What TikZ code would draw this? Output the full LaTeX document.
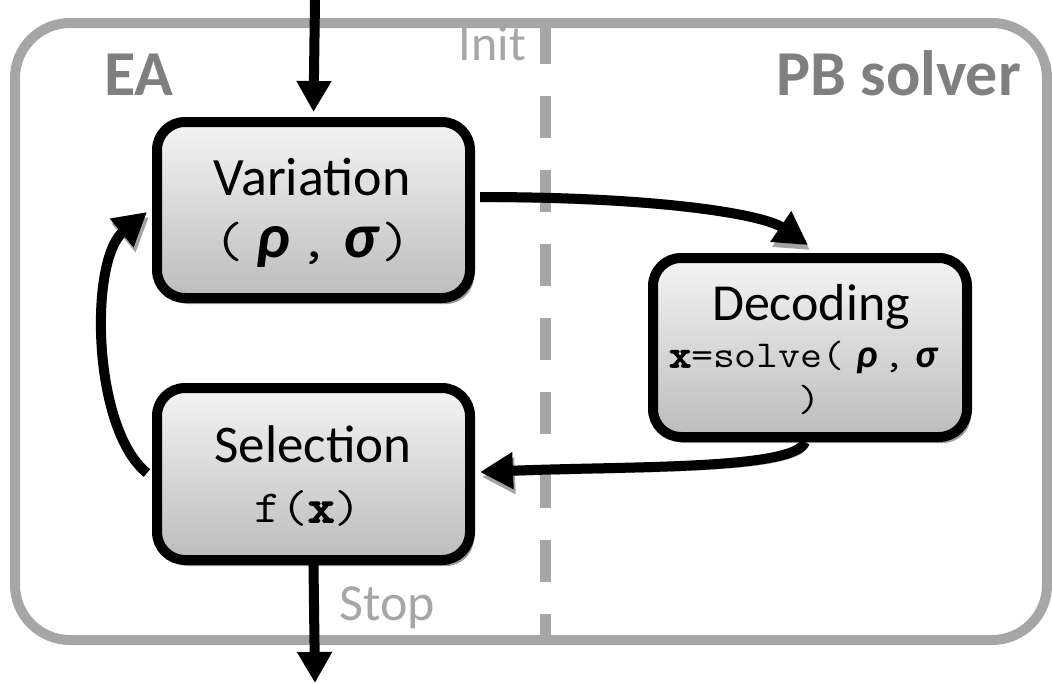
\documentclass[tikz,border=0pt]{standalone}
\usepackage{fontspec}
\setmainfont{Carlito}
\setmonofont{Latin Modern Mono}[FakeStretch=1.12]
\newfontfamily\ttbf{Latin Modern Mono}[FakeStretch=1.12, FakeBold=4]
\usetikzlibrary{arrows.meta,shadows}
\definecolor{framegray}{HTML}{A6A6A6}
\definecolor{titlegray}{HTML}{7F7F7F}
\definecolor{boxtop}{HTML}{F4F4F4}
\definecolor{boxbot}{HTML}{BCBCBC}
\definecolor{shadowgray}{HTML}{8C8C8C}
\newcommand{\fs}[1]{\fontsize{#1}{#1}\selectfont}
\newcommand{\grk}[1]{{\bfseries\itshape #1}}
\newcommand{\cell}[2]{\makebox[#1pt][c]{#2}}
\begin{document}
\begin{tikzpicture}[x=1pt,y=-1pt,
  stagebox/.style={draw=black, line width=10pt, rounded corners=28pt,
    top color=boxtop, bottom color=boxbot, inner sep=0pt,
    minimum width=313pt, minimum height=176pt,
    drop shadow={shadow xshift=4pt, shadow yshift=-6pt, fill=shadowgray, opacity=0.85}},
  txt/.style={inner sep=0pt, anchor=base, text=black},
  title/.style={inner sep=0pt, text=titlegray, font=\fs{64}\bfseries},
  hint/.style={inner sep=0pt, text=framegray},
  conn/.style={line width=10pt, -{Triangle[length=33pt,width=35pt]},
    preaction={draw=shadowgray, opacity=0.8, transform canvas={xshift=2pt,yshift=-5pt}}},
  straight/.style={line width=10pt, -{Triangle[length=31pt,width=33pt]}}
]
\useasboundingbox (0,0) rectangle (1052,683);
% frame and divider
\draw[framegray, line width=10pt, rounded corners=55pt] (15,23) rectangle (1047,640);
\draw[framegray, line width=11pt, dash pattern=on 42pt off 32pt] (545,22) -- (545,640);
% titles
\node[title, anchor=base west] (ea) at (104,95) {EA};
\node[title, anchor=base east] (pb) at (1021,95) {PB solver};
\node[hint, anchor=base east, font=\fs{50}] (init) at (526,60) {Init};
\node[hint, anchor=base west, font=\fs{52}] (stop) at (339,620) {Stop};
% boxes
\node[stagebox] (var) at (313.5,210) {};
\node[stagebox, minimum height=179pt, minimum width=314pt] (dec) at (810,347.5) {};
\node[stagebox, minimum height=172pt] (sel) at (313.5,474) {};
% box texts
\node[txt] (varA) at (312,195) {\fs{54}Variation};
\node[txt, anchor=base west] (varB) at (209,257) {\fs{51}\cell{40}{\texttt{(}}\cell{48}{\fs{63}\grk{ρ}}\cell{34}{\texttt{,}}\cell{58}{\fs{63}\grk{σ}}\cell{14}{\texttt{)}}};
\node[txt] (decA) at (811,320) {\fs{52}Decoding};
\node[txt, anchor=base west] (decB) at (669,367) {\fs{38}{\ttbf x}\texttt{=solve(}\cell{46}{\fs{40}\grk{ρ}}\cell{8}{\texttt{,}}\cell{56}{\fs{40}\grk{σ}}};
\node[txt] (decC) at (809,411) {\fs{38}\texttt{)}};
\node[txt] (selA) at (313,462) {\fs{53}Selection};
\node[txt] (selB) at (308,522) {\fs{46}\texttt{f(}{\ttbf x}\texttt{)}};
% connectors
\coordinate (entry) at (315,0);
\coordinate (exit) at (315,683);
\draw[straight] (entry) -- ([shift={(0,-5)}]var.north);
\draw[straight] (sel.south) -- (exit);
\draw[conn] ([shift={(5,-13)}]var.east) .. controls +(185,0) and +(-44,-30) .. ([shift={(-2,-8)}]dec.north);
\draw[conn] ([shift={(-5,0)}]dec.south) .. controls +(-10,28) and +(150,-6) .. ([shift={(5,-2)}]sel.east);
\draw[conn] ([shift={(-5,-1)}]sel.west) .. controls +(-55,-44) and +(-58,48) .. ([shift={(-5,2)}]var.west);
\end{tikzpicture}
\end{document}
